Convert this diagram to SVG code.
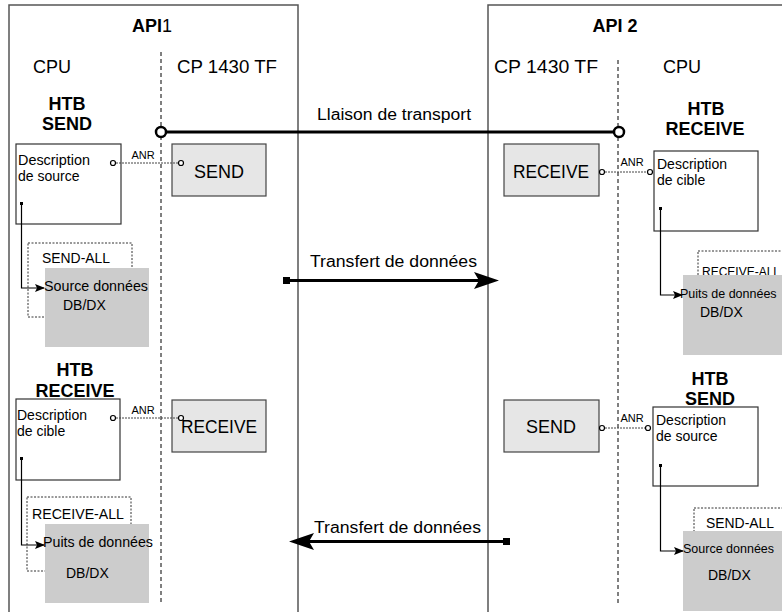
<svg xmlns="http://www.w3.org/2000/svg" width="782" height="612" viewBox="0 0 782 612">
<defs>
<style>
text{font-family:"Liberation Sans",Arial,sans-serif;fill:#000}
.frame{fill:none;stroke:#555;stroke-width:1.5}
.sep{stroke:#000;stroke-width:1;stroke-dasharray:4,3}
.t18{font-size:18px}
.b18{font-size:18px;font-weight:bold}
.t13{font-size:14px}
.t11{font-size:11px}
.t15{font-size:16px}
.desc{fill:#fff;stroke:#333;stroke-width:1.2}
.cp{fill:#e6e6e6;stroke:#444;stroke-width:1.2}
.data{fill:#cccccc}
.dash{fill:none;stroke:#333;stroke-width:1;stroke-dasharray:2,1.5}
.anr{stroke:#444;stroke-width:1;stroke-dasharray:2,1}
.pin{fill:#fff;stroke:#000;stroke-width:1.2}
.flow{fill:none;stroke:#000;stroke-width:1.2}
.thick{stroke:#000;stroke-width:3;fill:none}
</style>
<marker id="sa" markerWidth="10" markerHeight="8" refX="9" refY="4" orient="auto" markerUnits="userSpaceOnUse">
<path d="M0,0 L10,4 L0,8 L2,4 Z" fill="#000"/>
</marker>
</defs>

<g id="api1">
<rect class="frame" x="9" y="5" width="289" height="620"/>
<text class="b18" x="152" y="32" text-anchor="middle">API<tspan font-weight="normal">1</tspan></text>
<text class="t18" x="33" y="73">CPU</text>
<text class="t18" x="177" y="73" textLength="100" lengthAdjust="spacingAndGlyphs">CP 1430 TF</text>
<line class="sep" x1="161" y1="52" x2="161" y2="604"/>
</g>

<g id="api2">
<rect class="frame" x="488" y="5" width="320" height="620"/>
<text class="b18" x="615" y="32" text-anchor="middle">API 2</text>
<text class="t18" x="494" y="73" textLength="104" lengthAdjust="spacingAndGlyphs">CP 1430 TF</text>
<text class="t18" x="663" y="73">CPU</text>
<line class="sep" x1="618" y1="60" x2="618" y2="604"/>
</g>

<g id="htb-send-1">
<text class="b18" x="67" y="110" text-anchor="middle">HTB</text>
<text class="b18" x="67" y="130" text-anchor="middle">SEND</text>
</g>
<g id="desc-source-1">
<rect class="desc" x="16" y="144" width="105" height="80"/>
<text class="t13" x="18" y="165" textLength="72" lengthAdjust="spacingAndGlyphs">Description</text>
<text class="t13" x="18" y="181">de source</text>
</g>
<g id="send-1">
<rect class="cp" x="172" y="144" width="94" height="52"/>
<text class="t18" x="219" y="178" text-anchor="middle">SEND</text>
</g>
<g id="send-all-1">
<rect class="dash" x="28" y="243" width="104" height="74"/>
<text class="t13" x="42" y="263" textLength="68" lengthAdjust="spacingAndGlyphs">SEND-ALL</text>
</g>
<g id="source-1">
<rect class="data" x="45" y="268" width="104" height="79"/>
<text class="t13" x="44" y="291" textLength="104" lengthAdjust="spacingAndGlyphs">Source données</text>
<text class="t13" x="63" y="310">DB/DX</text>
</g>

<g id="htb-receive-1">
<text class="b18" x="75" y="376" text-anchor="middle">HTB</text>
<text class="b18" x="75" y="397" text-anchor="middle">RECEIVE</text>
</g>
<g id="desc-cible-1">
<rect class="desc" x="16" y="399" width="104" height="81"/>
<text class="t13" x="17" y="420" textLength="70" lengthAdjust="spacingAndGlyphs">Description</text>
<text class="t13" x="17" y="436">de cible</text>
</g>
<g id="receive-1">
<rect class="cp" x="172" y="400" width="94" height="52"/>
<text class="t18" x="219" y="433" text-anchor="middle" textLength="76" lengthAdjust="spacingAndGlyphs">RECEIVE</text>
</g>
<g id="receive-all-1">
<rect class="dash" x="27" y="497" width="104" height="74"/>
<text class="t13" x="32" y="519" textLength="92" lengthAdjust="spacingAndGlyphs">RECEIVE-ALL</text>
</g>
<g id="puits-1">
<rect class="data" x="45" y="524" width="104" height="79"/>
<text class="t13" x="43" y="547" textLength="110" lengthAdjust="spacingAndGlyphs">Puits de données</text>
<text class="t13" x="66" y="578">DB/DX</text>
</g>

<g id="htb-receive-2">
<text class="b18" x="706" y="115" text-anchor="middle">HTB</text>
<text class="b18" x="705" y="135" text-anchor="middle">RECEIVE</text>
</g>
<g id="receive-2">
<rect class="cp" x="504" y="144" width="95" height="52"/>
<text class="t18" x="551" y="178" text-anchor="middle" textLength="76" lengthAdjust="spacingAndGlyphs">RECEIVE</text>
</g>
<g id="desc-cible-2">
<rect class="desc" x="654" y="151" width="104" height="80"/>
<text class="t13" x="657" y="169" textLength="70" lengthAdjust="spacingAndGlyphs">Description</text>
<text class="t13" x="657" y="185">de cible</text>
</g>
<g id="receive-all-2">
<rect class="dash" x="698" y="251" width="120" height="74"/>
<text x="702" y="276" font-size="12">RECEIVE-ALL</text>
</g>
<g id="puits-2">
<rect class="data" x="683" y="275" width="120" height="80"/>
<text x="680" y="298" font-size="12.5">Puits de données</text>
<text class="t13" x="700" y="317">DB/DX</text>
</g>

<g id="htb-send-2">
<text class="b18" x="710" y="385" text-anchor="middle">HTB</text>
<text class="b18" x="710" y="405" text-anchor="middle">SEND</text>
</g>
<g id="send-2">
<rect class="cp" x="504" y="400" width="95" height="52"/>
<text class="t18" x="551" y="433" text-anchor="middle">SEND</text>
</g>
<g id="desc-source-2">
<rect class="desc" x="653" y="407" width="105" height="79"/>
<text class="t13" x="656" y="425" textLength="70" lengthAdjust="spacingAndGlyphs">Description</text>
<text class="t13" x="656" y="441">de source</text>
</g>
<g id="send-all-2">
<rect class="dash" x="694" y="508" width="120" height="74"/>
<text class="t13" x="706" y="528" textLength="68" lengthAdjust="spacingAndGlyphs">SEND-ALL</text>
</g>
<g id="source-2">
<rect class="data" x="683" y="531" width="120" height="80"/>
<text x="683" y="553" font-size="12.5">Source données</text>
<text class="t13" x="708" y="580">DB/DX</text>
</g>

<g id="connectors">
<line class="thick" x1="161" y1="132" x2="618" y2="132" stroke-width="2.5"/>
<circle cx="161" cy="132" r="5" fill="#fff" stroke="#000" stroke-width="2.5"/>
<circle cx="619" cy="132" r="5" fill="#fff" stroke="#000" stroke-width="2.5"/>
<text class="t15" x="317" y="120" textLength="154" lengthAdjust="spacingAndGlyphs">Llaison de transport</text>

<line class="anr" x1="116" y1="163" x2="178" y2="163"/>
<circle class="pin" cx="113" cy="163" r="2.5"/>
<circle class="pin" cx="181" cy="163" r="2.5"/>
<text class="t11" x="143" y="159" text-anchor="middle">ANR</text>

<line class="anr" x1="116" y1="418" x2="178" y2="418"/>
<circle class="pin" cx="113" cy="418" r="2.5"/>
<circle class="pin" cx="181" cy="418" r="2.5"/>
<text class="t11" x="143" y="414" text-anchor="middle">ANR</text>

<line class="anr" x1="605" y1="172" x2="647" y2="172"/>
<circle class="pin" cx="602" cy="172" r="2.5"/>
<circle class="pin" cx="650" cy="172" r="2.5"/>
<text class="t11" x="632" y="166" text-anchor="middle">ANR</text>

<line class="anr" x1="605" y1="428" x2="645" y2="428"/>
<circle class="pin" cx="602" cy="428" r="2.5"/>
<circle class="pin" cx="648" cy="428" r="2.5"/>
<text class="t11" x="632" y="422" text-anchor="middle">ANR</text>

<rect x="20" y="202" width="3" height="3" fill="#000"/>
<path class="flow" d="M21.5,204 V288 H44" marker-end="url(#sa)"/>
<rect x="20" y="457" width="3" height="3" fill="#000"/>
<path class="flow" d="M21.5,459 V545 H44" marker-end="url(#sa)"/>
<rect x="659" y="207" width="3" height="3" fill="#000"/>
<path class="flow" d="M660.5,209 V295 H682" marker-end="url(#sa)"/>
<rect x="659" y="464" width="3" height="3" fill="#000"/>
<path class="flow" d="M660.5,466 V551 H683" marker-end="url(#sa)"/>

<rect x="283" y="277" width="7" height="7" fill="#000"/>
<line class="thick" x1="288" y1="280.5" x2="480" y2="280.5"/>
<path d="M499,280.5 L474,272 L479,280.5 L474,289 Z" fill="#000"/>
<text class="t15" x="310" y="267" textLength="167" lengthAdjust="spacingAndGlyphs">Transfert de données</text>

<rect x="503" y="538" width="7" height="7" fill="#000"/>
<line class="thick" x1="505" y1="541.5" x2="308" y2="541.5"/>
<path d="M289,541.5 L314,533 L309,541.5 L314,550 Z" fill="#000"/>
<text class="t15" x="314" y="533" textLength="167" lengthAdjust="spacingAndGlyphs">Transfert de données</text>
</g>
</svg>
